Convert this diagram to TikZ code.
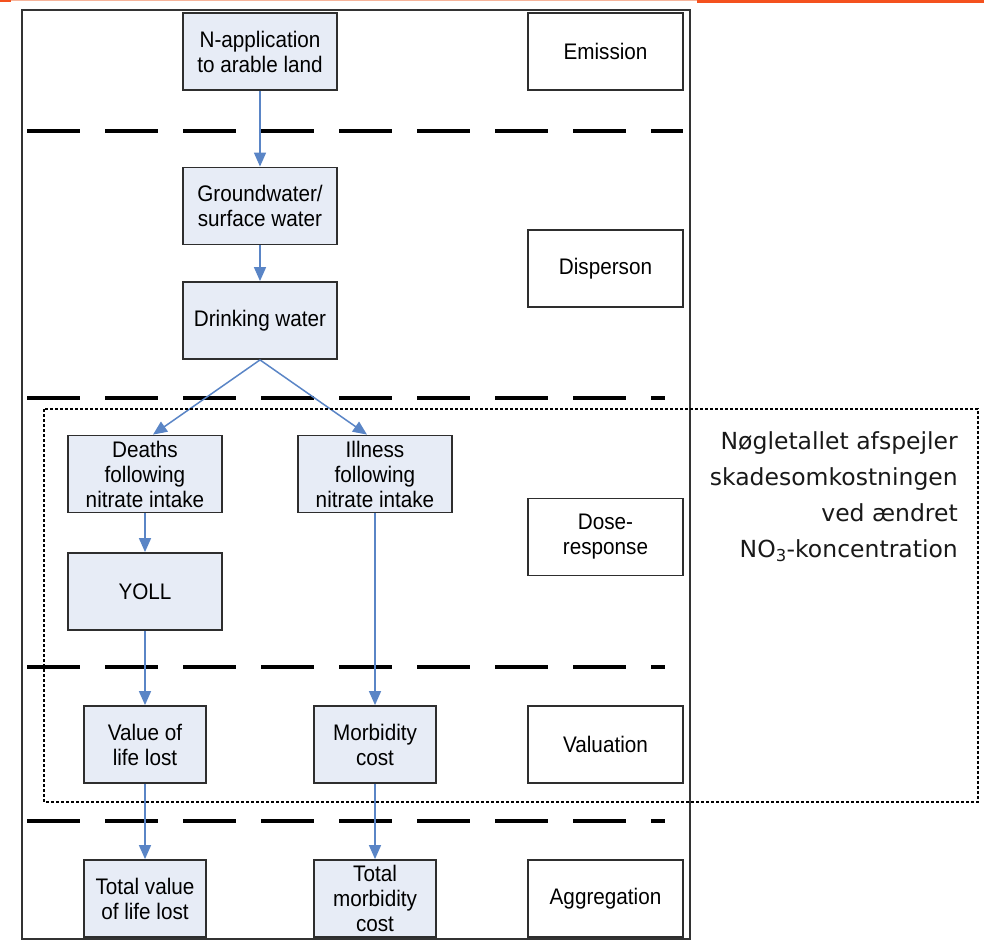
\documentclass[tikz,border=0pt]{standalone}
\usepackage{fontspec}
\usepackage{tikz}
\usetikzlibrary{arrows.meta,positioning}
\usepackage{xcolor}
\newfontfamily\boxfont[FakeStretch=0.92]{Liberation Sans}
\newfontfamily\notefont{DejaVu Sans}
\definecolor{boxblue}{HTML}{E7ECF6}
\definecolor{arrowblue}{HTML}{5A85C6}
\definecolor{topline}{HTML}{F4511E}
\definecolor{toplight}{HTML}{F7B49A}

\begin{document}
\begin{tikzpicture}[x=1pt, y=-1pt,
  stage/.style={rectangle, draw=black!82, line width=1.8pt, fill=boxblue, minimum width=154pt, minimum height=77pt, inner sep=0pt, align=center, font=\boxfont\fontsize{22.5pt}{25pt}\selectfont},
  small/.style={stage, minimum width=122pt},
  level/.style={stage, fill=white, minimum width=155pt},
  flow/.style={draw=arrowblue, line width=1.5pt, -{Triangle[length=14pt,width=12pt]}},
  sep/.style={line width=3.5pt, dash pattern=on 53pt off 25pt},
  note/.style={font=\notefont\fontsize{23.5pt}{36pt}\selectfont, align=right, inner sep=0pt, text=black!90}
]
  \useasboundingbox (0,0) rectangle (984,940);

  % page rule on top
  \fill[topline] (0,0) rectangle (11,2);
  \fill[toplight] (11,0) rectangle (697,1.2);
  \fill[topline] (697,0) rectangle (984,3);

  \draw[black!80, line width=2pt] (22,10) rectangle (690,939);

  % stage separators
  \draw[sep] (27,131) -- (683,131);
  \draw[sep] (27,398) -- (665,398);
  \draw[sep] (27,667) -- (665,667);
  \draw[sep] (27,821) -- (665,821);

  \node[stage] (napp) at (260,51.5) {N-application\\to arable land};
  \node[stage] (ground) at (260,206) {Groundwater/\\surface water};
  \node[stage] (drink) at (260,320.5) {Drinking water};
  \node[stage] (deaths) at (145,474) {Deaths\\following\\nitrate intake};
  \node[stage] (illness) at (375,474) {Illness\\following\\nitrate intake};
  \node[stage] (yoll) at (145,591.5) {YOLL};
  \node[small] (value) at (145,744.5) {Value of\\life lost};
  \node[small] (morb) at (375,744.5) {Morbidity\\cost};
  \node[small] (totval) at (145,898.5) {Total value\\of life lost};
  \node[small] (totmorb) at (375,898.5) {Total\\morbidity\\cost};

  \node[level] (emis) at (605.5,51.5) {Emission};
  \node[level] (disp) at (605.5,268.5) {Disperson};
  \node[level] (dose) at (605.5,537) {Dose-\\response};
  \node[level] (valu) at (605.5,744.5) {Valuation};
  \node[level] (aggr) at (605.5,898.5) {Aggregation};

  \draw[flow] (napp) -- (ground);
  \draw[flow] (ground) -- (drink);
  \draw[flow] (drink.south) -- ([xshift=8pt]deaths.north);
  \draw[flow] (drink.south) -- ([xshift=-8pt]illness.north);
  \draw[flow] (deaths) -- (yoll);
  \draw[flow] (yoll) -- (value);
  \draw[flow] (illness) -- (morb);
  \draw[flow] (value) -- (totval);
  \draw[flow] (morb) -- (totmorb);

  % key figure frame
  \draw[line width=1.2pt, dash pattern=on 3pt off 2pt] (44,409) rectangle (978,802);
  \node[note, anchor=east] (keynote) at (958,497) {Nøgletallet afspejler\\skadesomkostningen\\ved ændret\\NO\textsubscript{3}-koncentration};
\end{tikzpicture}
\end{document}
